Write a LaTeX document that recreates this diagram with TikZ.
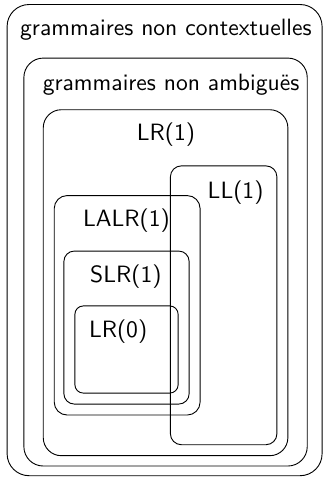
\documentclass[tikz,border=0pt]{standalone}
\usepackage{tikz}

\tikzset{
  classe/.style = {draw, rounded corners = #1},
  nom/.style    = {font = \fontsize{10.4}{12}\selectfont\sffamily}
}

\begin{document}
\begin{tikzpicture}
          \useasboundingbox (0, 0) rectangle (5, 7.39);
          % les ensembles de grammaires
          \draw[classe=0.34cm] (0.11, 0.02) rectangle (4.99, 7.32);
          \draw[classe=0.30cm] (0.37, 0.17) rectangle (4.76, 6.49);
          \draw[classe=0.28cm] (0.67, 0.33) rectangle (4.46, 5.69);
          \draw[classe=0.17cm] (2.64, 0.50) rectangle (4.29, 4.82);
          \draw[classe=0.20cm] (0.84, 0.96) rectangle (3.10, 4.36);
          \draw[classe=0.16cm] (0.99, 1.13) rectangle (2.93, 3.50);
          \draw[classe=0.13cm] (1.16, 1.30) rectangle (2.76, 2.65);
          % les noms
          \node[nom] (gnc)  at (2.57, 6.93) {grammaires non contextuelles};
          \node[nom] (gna)  at (2.65, 6.08) {grammaires non ambiguës};
          \node[nom] (lr1)  at (2.57, 5.30) {LR(1)};
          \node[nom] (ll1)  at (3.65, 4.40) {LL(1)};
          \node[nom] (lalr) at (1.96, 3.97) {LALR(1)};
          \node[nom] (slr)  at (1.95, 3.10) {SLR(1)};
          \node[nom] (lr0)  at (1.83, 2.25) {LR(0)};
      \end{tikzpicture}
\end{document}
